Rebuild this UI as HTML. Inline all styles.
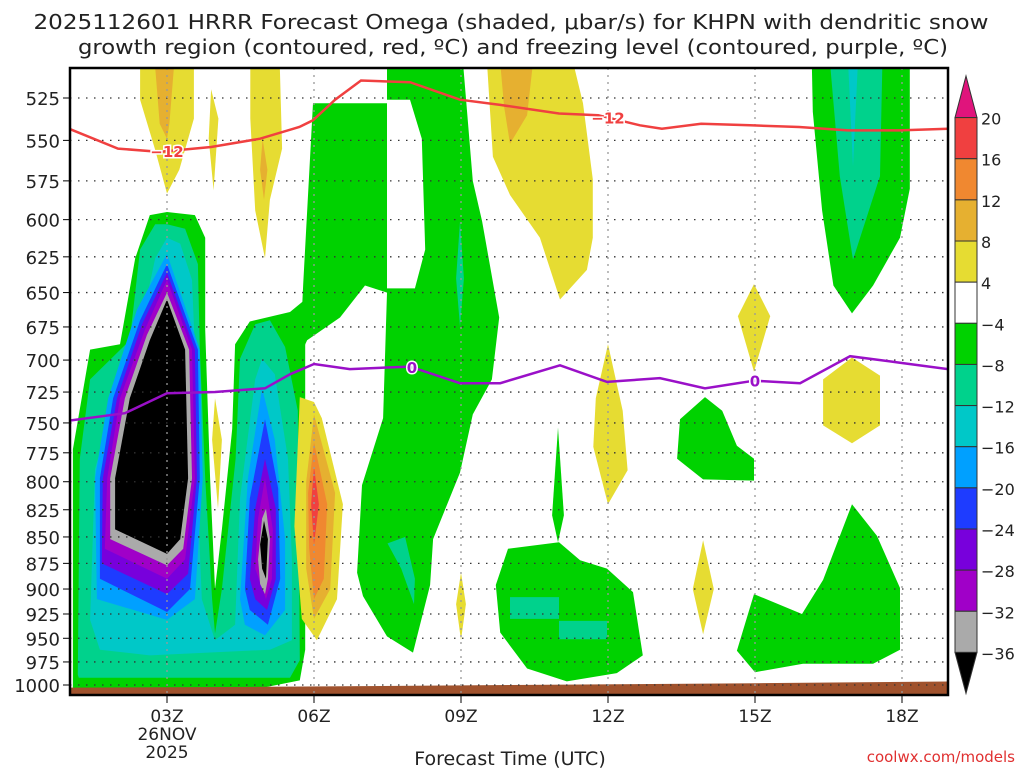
<!DOCTYPE html>
<html><head><meta charset="utf-8">
<style>
html,body{margin:0;padding:0;background:#fff;}
body{width:1024px;height:768px;overflow:hidden;font-family:"DejaVu Sans","Liberation Sans",sans-serif;}
svg text{font-family:"DejaVu Sans","Liberation Sans",sans-serif;}
</style></head>
<body>
<svg id="chart" width="1024" height="768" viewBox="0 0 1024 768" xmlns="http://www.w3.org/2000/svg">
<text x="511" y="29" text-anchor="middle" font-size="20" fill="#222" textLength="955" lengthAdjust="spacingAndGlyphs">2025112601 HRRR Forecast Omega (shaded, μbar/s) for KHPN with dendritic snow</text>
<text x="513" y="54" text-anchor="middle" font-size="20" fill="#222" textLength="870" lengthAdjust="spacingAndGlyphs">growth region (contoured, red, ºC) and freezing level (contoured, purple, ºC)</text>
<defs><clipPath id="plotclip"><rect x="70" y="68" width="878" height="627"/></clipPath></defs>
<g id="shading" clip-path="url(#plotclip)"></g>
<g id="grid"></g>
<g id="lines" clip-path="url(#plotclip)"></g>
<rect x="70" y="68" width="878" height="627" fill="none" stroke="#000" stroke-width="2.5"/>
<g id="axes"></g>
<g id="cbar"></g>
<text x="510" y="765" text-anchor="middle" font-size="19" fill="#222">Forecast Time (UTC)</text>
<text x="1015" y="762" text-anchor="end" font-size="15" fill="#e03030">coolwx.com/models</text>
</svg>
<script>
// ---- data ----
const pressureTicks = [525,550,575,600,625,650,675,700,725,750,775,800,825,850,875,900,925,950,975,1000];
const timeTicks = [3,6,9,12,15,18];
const timeTickLabels = ["03Z","06Z","09Z","12Z","15Z","18Z"];
const cbarLevels = [20,16,12,8,4,-4,-8,-12,-16,-20,-24,-28,-32,-36];
const cbarColors = ["#f04040","#f08830","#e6b030","#e6dc32","#ffffff","#00d200","#00d28c","#00c8c8","#00a0ff","#1e3cff","#7800dc","#a000c8","#aaaaaa"];
// freezing level (0C) [hour, hPa]
const freezeHours = [1.02,2.14,3.0,3.98,5.0,5.51,6.0,6.73,7.96,8.98,9.8,11.02,11.98,13.06,13.98,14.98,15.92,16.94,17.96,18.94];
const freezeP = [748,742,726,725,722,711,703,707,705,718,718,704,717,714,722,716,718,697,702,707];
// -12C isotherm
const dgzHours = [1.0,2.0,2.85,3.9,4.9,5.7,5.98,6.43,6.96,7.96,8.98,9.8,11.0,11.8,12.65,13.1,13.9,14.9,15.9,16.9,17.95,19.0];
const dgzP = [543,555,557,554,549,542,538,526,515,516,526,529,534,535,541,543,540,541,542,544,544,543];
// surface pressure (ground)
const sfcHours = [0.9,5,10,15,19.2];
const sfcP = [1003,1002,1000,998,996];
// shaded omega regions: vertices [hour, hPa]
const regGreenMain = [[1.08,1010],[1.08,772],[1.43,692],[2.04,688],[2.35,626],[2.65,597],[3.0,595],[3.57,597],[3.78,612],[3.78,677],[3.88,797],[3.98,900],[4.12,843],[4.33,755],[4.39,688],[4.69,671],[5.51,664],[5.82,655],[5.82,962],[5.71,995],[4.3,1010]];
const regTealMain = [[1.18,989],[1.22,780],[1.43,715],[2.24,685],[2.45,620],[2.76,603],[3.0,603],[3.37,606],[3.63,630],[3.67,692],[3.78,797],[3.92,910],[3.98,945],[4.12,900],[4.4,780],[4.49,699],[4.8,673],[5.1,670],[5.41,690],[5.67,740],[5.71,973],[5.51,992],[3.0,992],[1.2,992]];
const regCyanMain = [[1.43,931],[1.53,789],[1.94,730],[2.45,677],[2.76,626],[3.0,612],[3.27,616],[3.51,641],[3.57,692],[3.61,797],[3.71,910],[3.98,952],[4.39,936],[4.49,815],[4.8,715],[4.94,699],[5.2,711],[5.47,780],[5.55,871],[5.55,952],[5.1,962],[2.65,968],[1.63,962]];
const regLBlueL = [[3.0,623],[3.67,692],[3.73,797],[3.57,910],[3.0,931],[1.57,910],[1.53,797],[1.8,730],[2.39,662]];
const regBlueL = [[3.0,630],[3.63,692],[3.67,797],[3.47,900],[3.0,923],[1.63,890],[1.63,797],[1.9,730],[2.45,670]];
const regPurpL = [[3.0,636],[3.57,692],[3.61,797],[3.43,885],[3.0,905],[1.67,875],[1.69,797],[1.98,730],[2.49,673]];
const regMagL = [[3.0,641],[3.51,692],[3.57,797],[3.37,871],[3.0,890],[1.73,861],[1.78,797],[2.04,730],[2.55,677]];
const regGrayL = [[3.0,650],[3.45,692],[3.51,797],[3.33,861],[3.0,877],[1.84,852],[1.84,797],[2.14,730],[2.59,681]];
const regBlackL = [[3.0,655],[3.37,692],[3.43,797],[3.27,852],[3.0,866],[1.94,843],[1.94,797],[2.24,730],[2.65,685]];
const regLBlueR = [[4.49,910],[4.65,797],[4.94,722],[5.2,764],[5.41,852],[5.41,921],[5.0,947],[4.59,936]];
const regBlueR = [[4.59,900],[4.69,815],[5.0,747],[5.27,806],[5.31,890],[5.06,936],[4.69,921]];
const regPurpR = [[4.69,890],[4.8,824],[5.0,780],[5.22,824],[5.22,890],[5.04,921],[4.8,910]];
const regMagR = [[4.8,880],[4.86,833],[5.0,797],[5.16,843],[5.14,890],[5.02,910]];
const regGrayR = [[4.86,871],[4.94,833],[5.02,824],[5.1,852],[5.06,890],[5.0,905],[4.9,895]];
const regBlackR = [[4.9,857],[4.98,835],[5.06,852],[5.02,890],[4.94,880]];
const regGreenCenter = [[5.98,528],[7.49,528],[7.49,505],[9.04,505],[9.24,575],[9.43,601],[9.78,668],[9.63,715],[9.24,743],[8.98,792],[8.43,852],[8.37,896],[8.02,965],[7.49,948],[7.0,907],[6.88,884],[6.98,803],[7.41,746],[7.49,650],[7.04,645],[6.53,668],[5.86,685],[5.71,697],[5.78,644]];
const regHoleCenter = [[7.49,526],[7.96,526],[8.2,549],[8.27,620],[8.06,647],[7.49,647]];
const regTealStreak = [[8.98,601],[9.06,640],[8.98,675],[8.9,640]];
const regTealLow = [[7.5,856],[7.86,850],[8.06,890],[8.04,915],[7.78,880]];
const regGreenStreak = [[10.98,754],[11.1,830],[10.98,855],[10.86,830]];
const regGreenBottom = [[9.96,861],[11.0,855],[11.43,872],[11.98,880],[12.51,903],[12.71,968],[12.18,987],[11.16,996],[10.35,982],[9.8,944],[9.71,896]];
const regTealBottom = [[10,908],[11,908],[11,932],[11.98,932],[11.98,951],[11,951],[11,930],[10,930]];
const regGreenBlob = [[13.98,729],[13.47,747],[13.41,780],[13.94,798],[14.98,799],[14.98,780],[14.63,769],[14.33,740]];
const regGreenBR = [[14.63,963],[14.98,905],[15.96,925],[16.39,891],[16.98,820],[17.49,849],[17.96,899],[17.96,962],[17.41,977],[15.98,977],[15.0,986]];
const regGreenTR = [[16.16,505],[18.16,505],[18.16,580],[17.96,612],[17.41,645],[16.98,665],[16.6,645],[16.37,594],[16.18,533]];
const regTealTR = [[16.53,505],[17.6,505],[17.55,572],[17.0,627],[16.73,572]];
const regCyanTR = [[16.9,505],[17.1,505],[17.0,566]];
const regY1 = [[2.45,505],[3.55,505],[3.55,537],[3.25,568],[3.0,583],[2.75,555],[2.45,526]];
const regO1 = [[2.75,505],[3.15,505],[3.05,540],[3.0,549],[2.85,540]];
const regY2 = [[3.9,520],[4.05,537],[3.95,581],[3.85,549]];
const regY3 = [[4.7,505],[5.3,505],[5.35,555],[5.1,587],[5.0,626],[4.8,594],[4.7,537]];
const regO3 = [[4.95,549],[5.05,568],[4.98,587],[4.9,568]];
const regY4 = [[3.98,730],[4.12,764],[4.04,824],[3.92,764]];
const regY5 = [[5.71,729],[6.0,733],[6.16,746],[6.59,820],[6.47,910],[6.06,952],[5.75,930],[5.6,840]];
const regO5a = [[6.0,743],[6.43,810],[6.33,900],[6.0,930],[5.84,880],[5.84,800]];
const regO5b = [[6.0,766],[6.27,820],[6.2,890],[6.0,910],[5.9,860],[5.88,810]];
const regR5 = [[6.0,787],[6.1,820],[6.0,857],[5.94,820]];
const regY6 = [[9.53,505],[11.29,505],[11.49,528],[11.69,574],[11.69,612],[11.57,634],[11.02,655],[10.61,612],[10.0,584],[9.65,560]];
const regO6 = [[9.8,505],[10.47,505],[10.35,535],[10.0,552],[9.88,530]];
const regY7 = [[12.0,688],[12.3,740],[12.4,790],[12.0,820],[11.7,770],[11.75,730]];
const regY8 = [[14.98,644],[15.31,667],[14.98,709],[14.65,667]];
const regY9 = [[16.98,698],[17.55,712],[17.55,752],[16.98,767],[16.39,752],[16.39,715]];
const regY10 = [[13.94,853],[14.16,900],[13.94,946],[13.73,900]];
const regY11 = [[9.0,884],[9.1,915],[9.0,952],[8.9,915]];

// ---- scales ----
function xs(h){ return 20 + 49*h; }
function ys(p){ return 98 + 911*Math.log(p/525); }
const NS = "http://www.w3.org/2000/svg";
function mk(tag, attrs, parent){ const e=document.createElementNS(NS,tag); for(const k in attrs) e.setAttribute(k,attrs[k]); parent.appendChild(e); return e; }
function pts(arr){ return arr.map(v=>xs(v[0]).toFixed(1)+","+ys(v[1]).toFixed(1)).join(" "); }

const shade = document.getElementById("shading");
const layers = [
 ["green-main-region",regGreenMain,5],["teal-main-region",regTealMain,6],["cyan-main-region",regCyanMain,7],
 ["lightblue-left-region",regLBlueL,8],["blue-left-region",regBlueL,9],["purple-left-region",regPurpL,10],["magenta-left-region",regMagL,11],["gray-left-region",regGrayL,12],["black-left-region",regBlackL,-1],
 ["lightblue-right-region",regLBlueR,8],["blue-right-region",regBlueR,9],["purple-right-region",regPurpR,10],["magenta-right-region",regMagR,11],["gray-right-region",regGrayR,12],["black-right-region",regBlackR,-1],
 ["green-center-region",regGreenCenter,5],["white-center-hole",regHoleCenter,4],["teal-streak-region",regTealStreak,6],["teal-low-region",regTealLow,6],
 ["green-streak-region",regGreenStreak,5],["green-bottom-region",regGreenBottom,5],["teal-bottom-region",regTealBottom,6],
 ["green-blob-region",regGreenBlob,5],["green-bottomright-region",regGreenBR,5],["green-topright-region",regGreenTR,5],["teal-topright-region",regTealTR,6],["cyan-topright-region",regCyanTR,7],
 ["yellow-region-1",regY1,3],["orange-region-1",regO1,2],["yellow-region-2",regY2,3],["yellow-region-3",regY3,3],["orange-region-3",regO3,2],["yellow-region-4",regY4,3],
 ["yellow-region-5",regY5,3],["orange-region-5a",regO5a,2],["orange-region-5b",regO5b,1],["red-region-5",regR5,0],
 ["yellow-region-6",regY6,3],["orange-region-6",regO6,2],["yellow-region-7",regY7,3],["yellow-region-8",regY8,3],["yellow-region-9",regY9,3],["yellow-region-10",regY10,3],["yellow-region-11",regY11,3]
];
layers.forEach(L=>{
  const el = mk("polygon",{points:pts(L[1]),fill:L[2]<0?"#000":cbarColors[L[2]]},shade);
  
  
});
// ground
const gpts = sfcHours.map((h,i)=>[h,sfcP[i]]).concat([[19.2,1030],[0.9,1030]]);
const ground = mk("polygon",{points:pts(gpts),fill:"#a0522d"},shade);



// ---- grid & axes ----
const grid = document.getElementById("grid");
const axes = document.getElementById("axes");
pressureTicks.forEach(p=>{
  const y = ys(p);
  const gl = mk("line",{x1:70,x2:948,y1:y,y2:y,stroke:"#333","stroke-width":1.3,"stroke-dasharray":"1.5 6.5"},grid);
  
  
  const tk = mk("line",{x1:63,x2:70,y1:y,y2:y,stroke:"#000","stroke-width":1},axes);
  
  
  const t = mk("text",{x:60,y:y+7,"text-anchor":"end","font-size":18,fill:"#222"},axes);
  t.textContent = p;
  
  
});
timeTicks.forEach((h,i)=>{
  const x = xs(h);
  const gl = mk("line",{x1:x,x2:x,y1:68,y2:695,stroke:"#999","stroke-width":1.3,"stroke-dasharray":"2 5"},grid);
  
  
  const tk = mk("line",{x1:x,x2:x,y1:695,y2:703,stroke:"#000","stroke-width":1},axes);
  
  
  const t = mk("text",{x:x,y:722,"text-anchor":"middle","font-size":17,fill:"#222"},axes);
  t.textContent = timeTickLabels[i];
  
  
});
const d1 = mk("text",{x:xs(3),y:740,"text-anchor":"middle","font-size":17,fill:"#222"},axes);
d1.textContent = "26NOV";


const d2 = mk("text",{x:xs(3),y:758,"text-anchor":"middle","font-size":17,fill:"#222"},axes);
d2.textContent = "2025";



// ---- contour lines ----
const lines = document.getElementById("lines");
function line(hs, ps, color, name){
  const d = hs.map((h,i)=>(i?"L":"M")+xs(h).toFixed(1)+","+ys(ps[i]).toFixed(1)).join(" ");
  const el = mk("path",{d:d,fill:"none",stroke:color,"stroke-width":2.5},lines);
  
  
}
line(dgzHours, dgzP, "#f04040", "dgz-minus12-line");
line(freezeHours, freezeP, "#9a10c8", "freezing-level-line");
function lbl(h, hs, ps, txt, color, name){
  let i=0; while(i<hs.length-2 && hs[i+1]<h) i++;
  const f=(h-hs[i])/(hs[i+1]-hs[i]); const p=ps[i]+f*(ps[i+1]-ps[i]);
  const x=xs(h), y=ys(p);
  const t = mk("text",{x:x,y:y+6,"text-anchor":"middle","font-size":15,"font-weight":"bold",fill:color,stroke:"#fff","stroke-width":3,"paint-order":"stroke"},lines);
  t.textContent = txt;
  
  
}
lbl(3.0, dgzHours, dgzP, "−12", "#f04040", "dgz-label-left");
lbl(12.0, dgzHours, dgzP, "−12", "#f04040", "dgz-label-right");
lbl(8.0, freezeHours, freezeP, "0", "#9a10c8", "freezing-label-left");
lbl(15.0, freezeHours, freezeP, "0", "#9a10c8", "freezing-label-right");

// ---- colorbar ----
const cb = document.getElementById("cbar");
const cbTop = 117.6, cbStep = 41.14, cx0 = 955, cx1 = 977;
const tri1 = mk("polygon",{points:`${cx0},${cbTop} ${cx1},${cbTop} ${(cx0+cx1)/2},76`,fill:"#e0147c",stroke:"#333","stroke-width":1},cb);


cbarColors.forEach((c,i)=>{
  const r = mk("rect",{x:cx0,y:cbTop+i*cbStep,width:cx1-cx0,height:cbStep,fill:c,stroke:"#333","stroke-width":1},cb);
  
  
});
const yEnd = cbTop + cbarColors.length*cbStep;
const tri2 = mk("polygon",{points:`${cx0},${yEnd} ${cx1},${yEnd} ${(cx0+cx1)/2},${yEnd+41}`,fill:"#000",stroke:"#333","stroke-width":1},cb);


cbarLevels.forEach((v,i)=>{
  const t = mk("text",{x:981,y:cbTop+i*cbStep+7,"font-size":16,fill:"#222"},cb);
  t.textContent = v<0 ? "−"+Math.abs(v) : String(v);
  
  
});
</script>
</body></html>
